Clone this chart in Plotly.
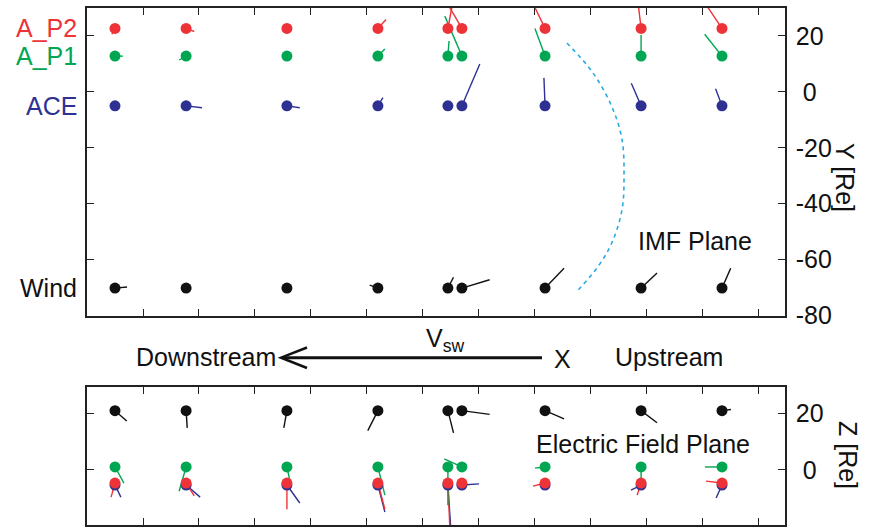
import plotly.graph_objects as go

W, H = 872, 527
FONT = "Liberation Sans, Arial, Helvetica, sans-serif"

# ---------------- data ----------------
X_RANGE = [0, 249.3]
Y_RANGE = [-80, 30]
Z_RANGE = [-19.6, 29.4]
x_ticks = [20, 40, 60, 80, 100, 120, 140, 160, 180, 200, 220, 240]
y_ticks = [20, 0, -20, -40, -60, -80]
y_ticktext = ["20", "\u00a00", "-20", "-40", "-60", "-80"]
z_ticks = [20, 0]
z_ticktext = ["20", "\u00a00"]

# X positions of the nine snapshots (columns)
col_x = [10.0, 35.4, 71.4, 103.9, 128.9, 133.9, 163.6, 197.9, 226.8]

spacecraft = ["Wind", "ACE", "A_P1", "A_P2"]
colors = {"A_P2": "#EE3338", "A_P1": "#00A651", "ACE": "#2E3192", "Wind": "#111111"}

# Y (top panel) and Z (bottom panel) position of each spacecraft row
y_pos = {"A_P2": 22.7, "A_P1": 12.8, "ACE": -5.0, "Wind": -70.2}
z_pos = {"Wind": 21.0, "A_P1": 1.0, "A_P2": -4.7, "ACE": -5.4}

# IMF plane vectors (top panel)
imf_dx = {
    "A_P2": [-1.1, 2.9, 0.0, 2.9, 1.8, -5.4, -4.3, -1.1, -6.1],
    "A_P1": [2.9, -2.5, 0.3, 2.5, 0.4, -6.1, -3.6, 0.0, -6.2],
    "ACE":  [1.1, 5.7, 4.6, 1.8, 0.0, 6.4, -0.4, -3.5, -2.3],
    "Wind": [4.3, 0.0, 0.0, -2.9, 2.0, 9.9, 6.8, 5.7, 3.1],
}
imf_dy = {
    "A_P2": [-2.1, -1.1, -1.8, 3.2, 9.6, 9.3, 8.9, 9.3, 9.1],
    "A_P1": [0.0, -1.4, 0.5, 2.5, 5.4, 14.3, 9.9, 7.5, 7.8],
    "ACE":  [-1.1, -0.7, -0.7, 2.9, 0.0, 15.0, 10.0, 8.1, 6.1],
    "Wind": [0.4, 0.0, 0.0, 1.1, 3.9, 3.0, 7.1, 5.4, 7.1],
}
# Electric field plane vectors (bottom panel)
ef_dx = {
    "Wind": [4.2, 0.4, -1.1, -3.6, 2.0, 9.9, 6.8, 5.7, 3.2],
    "A_P1": [3.2, -2.5, 1.1, 2.5, 0.0, -6.3, -3.6, 0.0, -6.1],
    "A_P2": [-1.4, 2.9, 0.0, 2.5, 0.7, 0.0, -4.3, -1.4, -5.7],
    "ACE":  [2.1, 5.0, 4.6, 2.5, 1.1, 6.1, -0.7, -3.6, -2.1],
}
ef_dy = {
    "Wind": [-3.7, -6.1, -6.1, -7.1, -7.9, -1.3, -2.9, -4.3, 0.4],
    "A_P1": [-5.7, -8.6, -5.0, -10.0, -13.6, 2.9, -0.4, -4.6, 0.0],
    "A_P2": [-5.0, -4.6, -9.3, -9.3, -16.0, 0.0, -1.1, -4.3, 0.7],
    "ACE":  [-4.3, -4.3, -6.4, -9.6, -16.4, 0.4, -0.4, -1.8, -4.6],
}

# dashed bow-shock-like arc in the IMF plane
arc_x = [171.4, 180.7, 187.5, 191.1, 191.8, 191.1, 187.5, 182.5, 175.0]
arc_y = [17.5, 6.8, -5.4, -17.1, -30.4, -42.1, -53.9, -62.5, -71.4]

# ---------------- figure ----------------
fig = go.Figure()


def seg_lists(xs, ys0, dxs, dys):
    sx, sy = [], []
    for x, y0, dx, dy in zip(xs, ys0, dxs, dys):
        sx += [x, x + dx, None]
        sy += [y0, y0 + dy, None]
    return sx, sy


def add_panel(xa, ya, pos, dx, dy, line_order, dot_order):
    for sc in line_order:
        ys = [pos[sc]] * len(col_x)
        sx, sy = seg_lists(col_x, ys, dx[sc], dy[sc])
        fig.add_trace(go.Scatter(x=sx, y=sy, mode="lines", xaxis=xa, yaxis=ya,
                                 line=dict(color=colors[sc], width=1.4),
                                 hoverinfo="skip", showlegend=False))
    for sc in dot_order:
        fig.add_trace(go.Scatter(x=col_x, y=[pos[sc]] * len(col_x), mode="markers",
                                 xaxis=xa, yaxis=ya,
                                 marker=dict(color=colors[sc], size=11, line=dict(width=0)),
                                 showlegend=False, name=sc))


fig.add_trace(go.Scatter(x=arc_x, y=arc_y, mode="lines", xaxis="x", yaxis="y",
                         line=dict(color="#29ABE2", width=1.6, dash="4px,4px", shape="spline"),
                         hoverinfo="skip", showlegend=False))
add_panel("x", "y", y_pos, imf_dx, imf_dy,
          ["Wind", "ACE", "A_P1", "A_P2"], ["Wind", "ACE", "A_P1", "A_P2"])
add_panel("x2", "y2", z_pos, ef_dx, ef_dy,
          ["Wind", "ACE", "A_P2", "A_P1"], ["Wind", "ACE", "A_P1", "A_P2"])

xl, xr = 87 / W, 785 / W
axis_common = dict(showline=True, linecolor="#222222", linewidth=1.6, mirror="ticks",
                   ticks="inside", ticklen=7, tickwidth=1.4, tickcolor="#222222",
                   showgrid=False, zeroline=False, automargin=False)

fig.update_layout(
    width=W, height=H,
    margin=dict(l=0, r=0, t=0, b=0),
    paper_bgcolor="white", plot_bgcolor="white",
    showlegend=False,
    font=dict(family=FONT, size=25, color="#111111"),
    xaxis=dict(domain=[xl, xr], range=X_RANGE, tickvals=x_ticks, showticklabels=False,
               anchor="y", **axis_common),
    yaxis=dict(domain=[1 - 315.5 / H, 1 - 8 / H], range=Y_RANGE, side="right",
               tickvals=y_ticks, ticktext=y_ticktext, anchor="x",
               tickfont=dict(family=FONT, size=25, color="#111111"),
               ticklabelstandoff=4, **axis_common),
    xaxis2=dict(domain=[xl, xr], range=X_RANGE, tickvals=x_ticks, showticklabels=False,
                anchor="y2", **axis_common),
    yaxis2=dict(domain=[1 - 525 / H, 1 - 387 / H], range=Z_RANGE, side="right",
                tickvals=z_ticks, ticktext=z_ticktext, anchor="x2",
                tickfont=dict(family=FONT, size=25, color="#111111"),
                ticklabelstandoff=4, **axis_common),
)

ann = []
# row labels on the left (top panel)
for sc in ["A_P2", "A_P1", "ACE", "Wind"]:
    ann.append(dict(text=sc, xref="paper", yref="y", x=79 / W, y=y_pos[sc],
                    xanchor="right", yanchor="middle", showarrow=False,
                    font=dict(family=FONT, size=25, color=colors[sc])))

def pa(text, px, py, xanchor="center", angle=0, size=25):
    ann.append(dict(text=text, xref="paper", yref="paper", x=px / W, y=1 - py / H,
                    xanchor=xanchor, yanchor="middle", showarrow=False, textangle=angle,
                    font=dict(family=FONT, size=size, color="#111111")))

pa("IMF Plane", 695, 241)
pa("Electric Field Plane", 643, 444)
pa("Y [Re]", 845, 177, angle=90)
pa("Z [Re]", 848, 455, angle=90)
pa("Downstream", 278, 357, xanchor="right")
pa("Upstream", 613, 357, xanchor="left")
pa("X", 562, 359)
pa("V<sub>sw</sub>", 424, 340, xanchor="left")
fig.update_layout(annotations=ann)

# solar wind arrow (open chevron head)
ay = 1 - 357.7 / H
fig.add_shape(type="line", xref="paper", yref="paper", x0=542 / W, x1=283 / W, y0=ay, y1=ay,
              line=dict(color="#111111", width=3))
fig.add_shape(type="path", xref="paper", yref="paper",
              path=f"M {307 / W} {1 - 347.5 / H} L {281 / W} {ay} L {307 / W} {1 - 368 / H}",
              line=dict(color="#111111", width=2.5))

fig.write_html("out.html")
